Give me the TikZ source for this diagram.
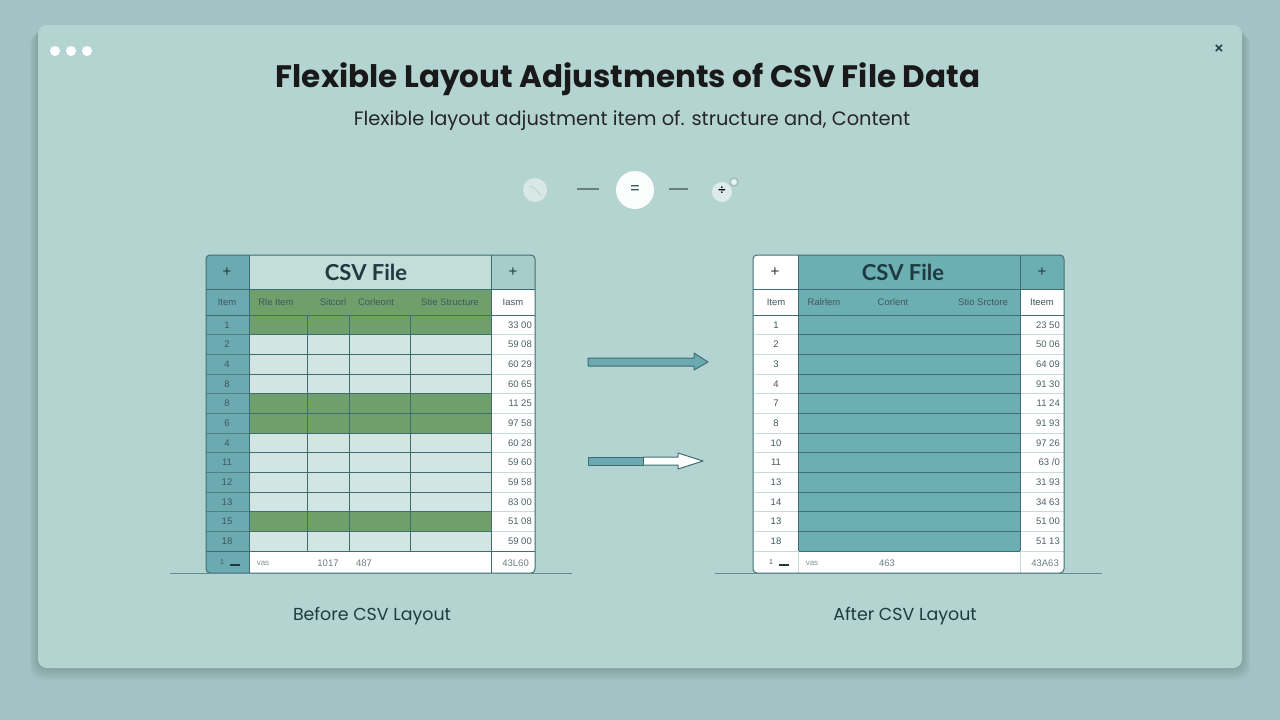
\documentclass[tikz,border=0pt]{standalone}
\usepackage{fontspec}
\setmainfont{Lato}
\newfontfamily\popfont{Poppins}
\newfontfamily\tabfont{Liberation Sans}
\usetikzlibrary{arrows.meta}
\definecolor{bgout}{HTML}{A2C3C3}
\definecolor{panel}{HTML}{B4D4D2}
\definecolor{tealL}{HTML}{6AAAB0}
\definecolor{tealR}{HTML}{6CAFB3}
\definecolor{greenc}{HTML}{6FA06C}
\definecolor{lightc}{HTML}{D3E5E3}
\definecolor{hdrc}{HTML}{C3DDD9}
\definecolor{hdrr}{HTML}{A7CDCB}
\definecolor{lined}{HTML}{3F6E72}
\definecolor{linel}{HTML}{C9D8D8}
\definecolor{txtd}{HTML}{1E3A40}
\tikzset{
  celltxt/.style={font=\tabfont\fontsize{9.5}{10}\selectfont, text=txtd!85, inner sep=0pt},
  valtxt/.style={font=\tabfont\fontsize{9.5}{10}\selectfont, text=txtd!80, inner sep=0pt, anchor=east},
  plustxt/.style={font=\tabfont\fontsize{15}{16}\selectfont, text=txtd, inner sep=0pt},
  csvtxt/.style={font=\fontsize{22}{24}\selectfont\bfseries, text=txtd, inner sep=0pt},
  gridd/.style={draw=lined, line width=1pt},
  gridl/.style={draw=linel, line width=0.8pt},
  gridt/.style={draw=lined!70!tealL, line width=0.8pt},
  caption/.style={font=\popfont\fontsize{17.4}{20}\selectfont, text=txtd, inner sep=0pt},
  arrowshape/.style={draw=lined, line width=1pt, line join=round}
}
\begin{document}
\begin{tikzpicture}[x=1pt,y=-1pt]
\useasboundingbox (0,0) rectangle (1280,720);
\fill[bgout] (0,0) rectangle (1280,720);
% panel shadow
\foreach \k in {1,...,8}
  \fill[black, opacity=0.018, rounded corners=12] (38-\k,25+\k) rectangle (1242+\k,668+1.5*\k);
\fill[panel, rounded corners=9] (38,25) rectangle (1242,668);

% window dots and close
\foreach \x [count=\n] in {55,71,87}
  \fill[white] (\x,51) circle (5) coordinate (dot\n);
\node[font=\tabfont\fontsize{15}{16}\selectfont, text=txtd, inner sep=0pt] (close) at (1219,49) {\bfseries ×};

% title
\node[font=\popfont\fontsize{31}{36}\selectfont\bfseries, text=black!90, inner sep=0pt] (title) at (628,79) {Flexible Layout Adjustments of CSV File Data};
\node[font=\popfont\fontsize{19.4}{24}\selectfont, text=black!85, inner sep=0pt] (subtitle) at (632,121) {Flexible layout adjustment item of. structure and, Content};

% icon row
\fill[white!60!panel, opacity=0.8] (535,190) circle (12);
\draw[panel!70!black, line width=0.5pt, opacity=0.5] (530,186) .. controls (536,188) and (538,192) .. (541,196);
\coordinate (d1a) at (577,189); \coordinate (d1b) at (599,189);
\draw[panel!60!black, line width=1.8pt] (d1a) -- (d1b);
\node[circle, fill=white!95!panel, minimum size=38pt, inner sep=0pt, font=\tabfont\fontsize{16}{16}\selectfont, text=txtd] (eq) at (635,190) {=};
\coordinate (d2a) at (669,189); \coordinate (d2b) at (688,189);
\draw[panel!60!black, line width=1.8pt] (d2a) -- (d2b);
\fill[white!55!panel] (722,192) circle (10);
\fill[panel!85!black, opacity=0.6] (734,182) circle (5);
\fill[white!70!panel] (734,182) circle (3);
\node[font=\tabfont\fontsize{13}{13}\selectfont\bfseries, text=black, inner sep=0pt] (divi) at (722,191) {÷};

% ================= LEFT TABLE =================
\begin{scope}
\clip[rounded corners=4] (206,255) rectangle (535,573);
\fill[tealL] (206,255) rectangle (249,289);
\fill[hdrc] (249,255) rectangle (491,289);
\fill[hdrr] (491,255) rectangle (535,289);
\fill[tealL] (206,289) rectangle (249,315);
\fill[greenc] (249,289) rectangle (491,315);
\fill[white] (491,289) rectangle (535,315);
\foreach \lab/\val/\col [count=\i from 0] in {1/33 00/greenc, 2/59 08/lightc, 4/60 29/lightc, 8/60 65/lightc, 8/11 25/greenc, 6/97 58/greenc, 4/60 28/lightc, 11/59 60/lightc, 12/59 58/lightc, 13/83 00/lightc, 15/51 08/greenc, 18/59 00/lightc} {
  \pgfmathsetmacro\yt{315+\i*19.67}
  \pgfmathsetmacro\yb{\yt+19.67}
  \pgfmathsetmacro\ym{\yt+9.9}
  \fill[tealL] (206,\yt) rectangle (249,\yb);
  \fill[\col] (249,\yt) rectangle (491,\yb);
  \fill[white] (491,\yt) rectangle (535,\yb);
  \node[celltxt] (La\i) at (227,\ym) {\lab};
  \node[valtxt] (Lv\i) at (532,\ym) {\val};
}
\fill[tealL] (206,551) rectangle (249,573);
\fill[white] (249,551) rectangle (535,573);
\foreach \i in {1,...,11} {
  \pgfmathsetmacro\yb{315+\i*19.67}
  \draw[gridd] (249,\yb) -- (491,\yb);
  \draw[gridl] (491,\yb) -- (535,\yb);
  \draw[gridt] (206,\yb) -- (249,\yb);
}
\end{scope}
\draw[gridd] (206,289) -- (535,289);
\draw[gridd] (206,315) -- (535,315);
\draw[gridd] (206,551) -- (535,551);
\draw[gridd] (249,255) -- (249,573);
\draw[gridd] (491,255) -- (491,573);
\foreach \x in {307,349,410} \draw[gridd] (\x,315) -- (\x,551);
\draw[gridd, rounded corners=4] (206,255) rectangle (535,573);
\node[plustxt] (Lp1) at (227,272) {+};
\node[csvtxt] (Lcsv) at (366,272) {CSV File};
\node[plustxt] (Lp2) at (513,272) {+};
\node[celltxt] (Lh0) at (227,302) {Item};
\node[celltxt] (Lh1) at (276,302) {Rle Item};
\node[celltxt] (Lh2) at (333,302) {Sitcorl};
\node[celltxt] (Lh3) at (376,302) {Corleont};
\node[celltxt] (Lh4) at (450,302) {Stie Structure};
\node[celltxt] (Lh5) at (513,302) {Iasm};
\node[celltxt] (Lf0) at (222,562) {\fontsize{7}{8}\selectfont 1};
\draw[txtd, line width=1.5pt] (230,565) -- (240,565);
\node[celltxt, text=txtd!55, font=\tabfont\fontsize{8}{9}\selectfont] (Lf1) at (263,563) {vas};
\node[celltxt, text=txtd!65] (Lf2) at (328,563) {1017};
\node[celltxt, text=txtd!65] (Lf3) at (364,563) {487};
\node[valtxt, text=txtd!65] (Lf4) at (529,563) {43L60};
\draw[lined!80, line width=1pt] (170,573) -- (572,573);
\node[caption] (before) at (372,616) {Before CSV Layout};

% ================= RIGHT TABLE =================
\begin{scope}
\clip[rounded corners=4] (753,255) rectangle (1064,573);
\fill[white] (753,255) rectangle (798,573);
\fill[tealR] (798,255) rectangle (1064,289);
\fill[tealR] (798,289) rectangle (1020,551);
\fill[white] (1020,289) rectangle (1064,573);
\fill[white] (798,551) rectangle (1020,573);
\foreach \lab/\val [count=\i from 0] in {1/23 50, 2/50 06, 3/64 09, 4/91 30, 7/11 24, 8/91 93, 10/97 26, 11/{63 /0}, 13/31 93, 14/34 63, 13/51 00, 18/51 13} {
  \pgfmathsetmacro\yt{315+\i*19.67}
  \pgfmathsetmacro\ym{\yt+9.9}
  \node[celltxt] (Ra\i) at (776,\ym) {\lab};
  \node[valtxt] (Rv\i) at (1060,\ym) {\val};
}
\foreach \i in {1,...,11} {
  \pgfmathsetmacro\yb{315+\i*19.67}
  \draw[gridd] (798,\yb) -- (1020,\yb);
  \draw[gridl] (753,\yb) -- (798,\yb);
  \draw[gridl] (1020,\yb) -- (1064,\yb);
}
\end{scope}
\draw[gridd] (753,289) -- (1064,289);
\draw[gridd] (753,315) -- (1064,315);
\draw[gridd] (798,551) -- (1020,551);
\draw[gridl] (753,551) -- (798,551);
\draw[gridl] (1020,551) -- (1064,551);
\draw[gridd] (798,255) -- (798,551);
\draw[gridd] (1020,255) -- (1020,551);
\draw[gridl] (798,551) -- (798,573);
\draw[gridl] (1020,551) -- (1020,573);
\draw[gridd, rounded corners=4] (753,255) rectangle (1064,573);
\node[plustxt] (Rp1) at (775,272) {+};
\node[csvtxt] (Rcsv) at (903,272) {CSV File};
\node[plustxt] (Rp2) at (1042,272) {+};
\node[celltxt] (Rh0) at (776,302) {Item};
\node[celltxt] (Rh1) at (824,302) {Ralrlem};
\node[celltxt] (Rh2) at (893,302) {Corlent};
\node[celltxt] (Rh3) at (983,302) {Stio Srctore};
\node[celltxt] (Rh4) at (1042,302) {Iteem};
\node[celltxt] (Rf0) at (771,562) {\fontsize{7}{8}\selectfont 1};
\draw[txtd, line width=1.5pt] (779,565) -- (789,565);
\node[celltxt, text=txtd!55, font=\tabfont\fontsize{8}{9}\selectfont] (Rf1) at (812,563) {vas};
\node[celltxt, text=txtd!65] (Rf2) at (887,563) {463};
\node[valtxt, text=txtd!65] (Rf3) at (1059,563) {43A63};
\draw[lined!80, line width=1pt] (715,573) -- (1102,573);
\node[caption] (after) at (905,616) {After CSV Layout};

% ================= ARROWS =================
\coordinate (a1s) at (588,362);
\coordinate (a1t) at (708,362);
\fill[tealL, arrowshape] (588,358) -- (694,358) -- (694,353) -- (a1t) -- (694,370) -- (694,366) -- (588,366) -- cycle;
\coordinate (a2s) at (588,461);
\coordinate (a2t) at (703,461);
\fill[white, arrowshape] (643,457) -- (678,457) -- (678,453) -- (a2t) -- (678,469) -- (678,465) -- (643,465) -- cycle;
\fill[tealL, arrowshape] (588,457) rectangle (643,465);
\end{tikzpicture}
\end{document}
